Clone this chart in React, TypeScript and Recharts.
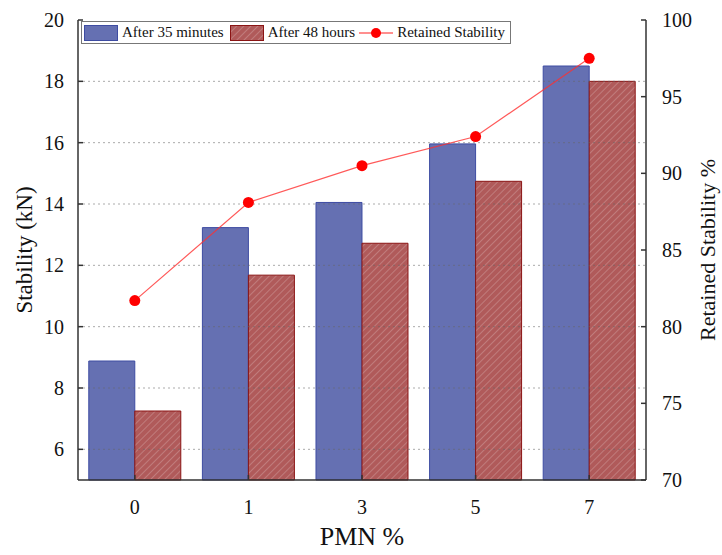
import React from 'react';
import {
  ComposedChart,
  Bar,
  Line,
  XAxis,
  YAxis,
  Legend,
  ReferenceLine,
} from 'recharts';

const categories = ['0', '1', '3', '5', '7'];
const after35Minutes = [8.88, 13.23, 14.05, 15.96, 18.5];
const after48Hours = [7.25, 11.68, 12.72, 14.74, 18.0];
const retainedStability = [81.7, 88.1, 90.5, 92.4, 97.5];

const leftTicks = [6, 8, 10, 12, 14, 16, 18, 20];
const rightTicks = [70, 75, 80, 85, 90, 95, 100];
// dotted grid follows the left axis ticks (20 sits on the frame)
const gridValues = [6, 8, 10, 12, 14, 16, 18];

const data = categories.map((name, i) => ({
  name,
  after35: after35Minutes[i],
  after48: after48Hours[i],
  retained: retainedStability[i],
}));

const FONT = '"Liberation Serif", "Times New Roman", serif';
const AXIS = '#333333';
const BLUE = '#6570b2';
const BLUE_EDGE = '#3e4ca2';
const RED = '#b05a5a';
const RED_EDGE = '#8a1414';

const HatchDef = ({ id }: { id: string }) => (
  <pattern id={id} width="5" height="5" patternUnits="userSpaceOnUse" patternTransform="rotate(45)">
    <rect width="5" height="5" fill={RED} />
    <line x1="0" y1="0" x2="0" y2="5" stroke="rgba(255,255,255,0.35)" strokeWidth="1.2" />
  </pattern>
);

const LegendBox = () => (
  <div
    style={{
      display: 'flex',
      alignItems: 'center',
      border: '1px solid #777',
      background: '#fff',
      padding: '2px 5px 2px 2px',
      fontFamily: FONT,
      fontSize: 15,
      color: '#111',
      whiteSpace: 'nowrap',
    }}
  >
    <svg width="34" height="16" style={{ marginRight: 4 }}>
      <rect x="0.5" y="0.5" width="33" height="15" fill={BLUE} stroke={BLUE_EDGE} />
    </svg>
    <span style={{ marginRight: 6 }}>After 35 minutes</span>
    <svg width="34" height="16" style={{ marginRight: 4 }}>
      <defs>
        <HatchDef id="hatchLegend" />
      </defs>
      <rect x="0.5" y="0.5" width="33" height="15" fill="url(#hatchLegend)" stroke={RED_EDGE} />
    </svg>
    <span style={{ marginRight: 4 }}>After 48 hours</span>
    <svg width="34" height="16" style={{ marginRight: 4 }}>
      <line x1="0" y1="8" x2="34" y2="8" stroke="#ff2020" strokeWidth="1.2" />
      <circle cx="17" cy="8" r="5" fill="#ff0000" />
    </svg>
    <span>Retained Stability</span>
  </div>
);

const App: React.FC = () => {
  return (
    <div style={{ position: 'absolute', left: 0, top: 0, width: 722, height: 555, background: '#fff' }}>
      <ComposedChart
        width={722}
        height={555}
        data={data}
        margin={{ top: 20, right: 16, left: 18, bottom: 0 }}
        barCategoryGap="9.5%"
        barGap={0}
        style={{ fontFamily: FONT }}
      >
        <defs>
          <HatchDef id="hatchBar" />
        </defs>
        <XAxis
          xAxisId="x"
          dataKey="name"
          height={75}
          tickSize={-5}
          tickMargin={25}
          axisLine={{ stroke: AXIS, strokeWidth: 1.5 }}
          tickLine={{ stroke: AXIS, strokeWidth: 1.5 }}
          tick={{ fill: '#111', fontSize: 20, fontFamily: FONT }}
          label={{ value: 'PMN %', position: 'insideBottom', offset: 10, fill: '#111', fontSize: 26, fontFamily: FONT }}
        />
        <XAxis
          xAxisId="top"
          dataKey="name"
          orientation="top"
          height={0}
          tick={false}
          tickLine={false}
          axisLine={{ stroke: AXIS, strokeWidth: 1.5 }}
        />
        <YAxis
          yAxisId="left"
          width={60}
          domain={[5, 20]}
          ticks={leftTicks}
          interval={0}
          tickSize={-5}
          tickMargin={19}
          axisLine={{ stroke: AXIS, strokeWidth: 1.5 }}
          tickLine={{ stroke: AXIS, strokeWidth: 1.5 }}
          tick={{ fill: '#111', fontSize: 20, fontFamily: FONT }}
          label={{ value: 'Stability (kN)', angle: -90, position: 'center', dx: -24, fill: '#111', fontSize: 23, fontFamily: FONT }}
        />
        <YAxis
          yAxisId="right"
          orientation="right"
          width={60}
          domain={[70, 100]}
          ticks={rightTicks}
          interval={0}
          tickSize={-5}
          tickMargin={21}
          axisLine={{ stroke: AXIS, strokeWidth: 1.5 }}
          tickLine={{ stroke: AXIS, strokeWidth: 1.5 }}
          tick={{ fill: '#111', fontSize: 20, fontFamily: FONT }}
          label={{ value: 'Retained Stability %', angle: -90, position: 'center', dx: 31, fill: '#111', fontSize: 22, fontFamily: FONT }}
        />
        <Legend
          layout="vertical"
          align="center"
          verticalAlign="middle"
          content={() => <LegendBox />}
          wrapperStyle={{ left: 81, top: 21, width: 'auto', height: 'auto' }}
        />
        <Bar
          xAxisId="x"
          yAxisId="left"
          dataKey="after35"
          name="After 35 minutes"
          fill={BLUE}
          stroke={BLUE_EDGE}
          strokeWidth={1}
          isAnimationActive={false}
        />
        <Bar
          xAxisId="x"
          yAxisId="left"
          dataKey="after48"
          name="After 48 hours"
          fill="url(#hatchBar)"
          stroke={RED_EDGE}
          strokeWidth={1}
          isAnimationActive={false}
        />
        {gridValues.map((v) => (
          <ReferenceLine
            key={v}
            xAxisId="x"
            yAxisId="left"
            y={v}
            stroke="#666"
            strokeOpacity={0.55}
            strokeDasharray="2 3"
          />
        ))}
        <Line
          xAxisId="x"
          yAxisId="right"
          dataKey="retained"
          name="Retained Stability"
          type="linear"
          stroke="#ff3030"
          strokeOpacity={0.8}
          strokeWidth={1.2}
          dot={{ r: 5.5, fill: '#ff0000', stroke: 'none', fillOpacity: 1 }}
          activeDot={false}
          isAnimationActive={false}
        />
      </ComposedChart>
    </div>
  );
};

export default App;
